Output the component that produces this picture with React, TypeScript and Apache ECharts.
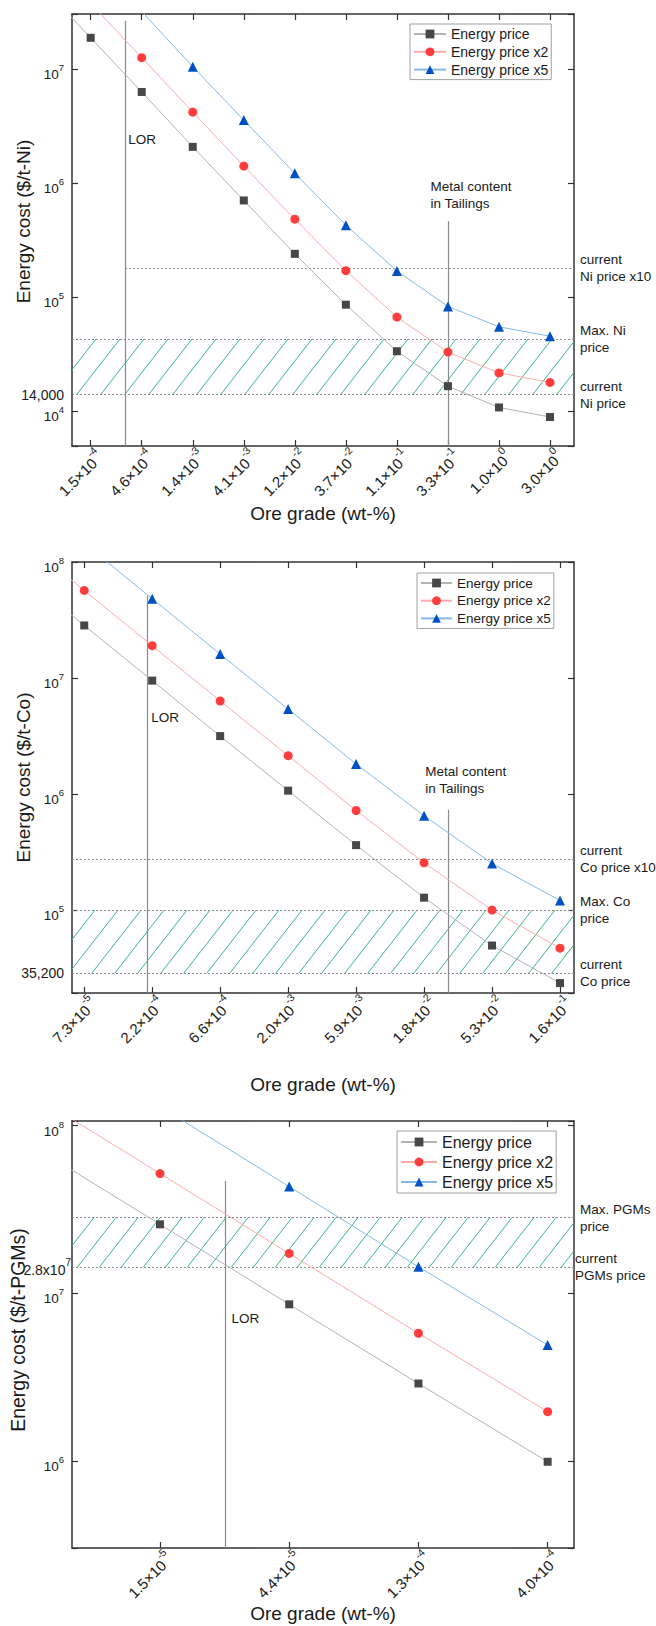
import React, { useEffect, useRef } from 'react';
import * as echarts from 'echarts';

const FONT = 'Arial, "Liberation Sans", Helvetica, sans-serif';
const TXT = '#1a1a1a';
const FRAME = '#333333';
const REF_LINE = '#8a8a8a';
const HATCH = '#3cb878';

const seriesNames = ['Energy price', 'Energy price x2', 'Energy price x5'];

// ---------- Nickel ----------
const niGrades = [1.5e-4, 4.6e-4, 1.4e-3, 4.1e-3, 1.2e-2, 3.7e-2, 1.1e-1, 3.3e-1, 1.0, 3.0];
// first value of each series = point one grade step below the first tick (off the left edge)
const niEnergy = [5.6e7, 1.88e7, 6.3e6, 2.08e6, 7.05e5, 2.4e5, 8.6e4, 3.36e4, 1.66e4, 1.08e4, 8.9e3];
const niEnergy2 = [1.12e8, 3.76e7, 1.26e7, 4.2e6, 1.41e6, 4.83e5, 1.71e5, 6.7e4, 3.3e4, 2.17e4, 1.79e4];
const niEnergy5 = [2.5e8, 8.3e7, 3.2e7, 1.05e7, 3.57e6, 1.22e6, 4.28e5, 1.7e5, 8.3e4, 5.5e4, 4.55e4];
const niPriceCurrent = 14000;
const niPriceMax = 43000;
const niPriceTenfold = 180000;
const niLorPos = 0.672; // position on the grade axis (tick index)
const niTailingsPos = 7;

// ---------- Cobalt ----------
const coGrades = [7.3e-5, 2.2e-4, 6.6e-4, 2.0e-3, 5.9e-3, 1.8e-2, 5.3e-2, 1.6e-1];
const coEnergy = [8.5e7, 2.84e7, 9.5e6, 3.16e6, 1.07e6, 3.63e5, 1.28e5, 4.95e4, 2.35e4];
const coEnergy2 = [1.7e8, 5.69e7, 1.9e7, 6.34e6, 2.14e6, 7.22e5, 2.56e5, 1.0e5, 4.7e4];
const coEnergy5 = [4.3e8, 1.45e8, 4.83e7, 1.61e7, 5.4e6, 1.82e6, 6.5e5, 2.52e5, 1.21e5];
const coPriceCurrent = 28500;
const coPriceMax = 100000;
const coPriceTenfold = 275000;
const coLorPos = 0.922;
const coTailingsPos = 5.358;

// ---------- PGMs ----------
const pgmGrades = [1.5e-5, 4.4e-5, 1.3e-4, 4.0e-4];
const pgmEnergy = [7.7e7, 2.58e7, 8.6e6, 2.9e6, 9.9e5];
const pgmEnergy2 = [1.55e8, 5.18e7, 1.73e7, 5.78e6, 1.97e6];
const pgmEnergy5 = [3.9e8, 1.3e8, 4.33e7, 1.44e7, 4.92e6];
const pgmPriceCurrent = 1.43e7;
const pgmPriceMax = 2.83e7;
const pgmLorPos = 0.508;

const lineStyles = [
  { symbol: 'rect', symbolSize: 8, itemStyle: { color: '#474747' }, lineStyle: { color: '#b3b3b3', width: 1 } },
  { symbol: 'circle', symbolSize: 9, itemStyle: { color: '#ff3d3d' }, lineStyle: { color: '#ffaaaa', width: 1 } },
  { symbol: 'triangle', symbolSize: 10, itemStyle: { color: '#0052c4' }, lineStyle: { color: '#86b8ee', width: 1 } },
];

const textBase = { color: TXT, fontFamily: FONT, fontSize: 13.5, lineHeight: 17 };

const charts = [
  {
    top: 14, height: 432, xMin: -0.366, xMax: 9.47, yMin: 4960, yMax: 3.04e7,
    grades: niGrades, series: [niEnergy, niEnergy2, niEnergy5],
    yName: 'Energy cost ($/t-Ni)', yNameGap: 39, yNameSize: 19, yNamePad: 17, xNameGap: 58,
    legend: { left: 410, top: 24, fontSize: 14, itemWidth: 32, itemGap: 3.8 },
    hatch: [niPriceCurrent, niPriceMax], hatchSpacing: 24,
    hLines: [
      { y: niPriceCurrent, pos: 'start', text: '14,000' },
      { y: niPriceCurrent, pos: 'end', text: 'current\nNi price' },
      { y: niPriceMax, pos: 'end', text: 'Max. Ni\nprice' },
      { y: niPriceTenfold, pos: 'end', text: 'current\nNi price x10', from: niLorPos, up: true },
    ],
    vLines: [{ x: niLorPos, top: 2.65e7 }, { x: niTailingsPos, top: 4.64e5 }],
    texts: [{ x: 0.725, y: 2.43e6, text: 'LOR' }, { x: 6.648, y: 7.85e5, text: 'Metal content\nin Tailings' }],
  },
  {
    top: 562, height: 431, xMin: -0.18, xMax: 7.206, yMin: 1.93e4, yMax: 1e8,
    grades: coGrades, series: [coEnergy, coEnergy2, coEnergy5],
    yName: 'Energy cost ($/t-Co)', yNameGap: 36, yNameSize: 19, yNamePad: 0, xNameGap: 82,
    legend: { left: 417, top: 573, fontSize: 13.5, itemWidth: 31, itemGap: 3.7 },
    hatch: [coPriceCurrent, coPriceMax], hatchSpacing: 23,
    hLines: [
      { y: coPriceCurrent, pos: 'start', text: '35,200' },
      { y: coPriceCurrent, pos: 'end', text: 'current\nCo price' },
      { y: coPriceMax, pos: 'end', text: 'Max. Co\nprice' },
      { y: coPriceTenfold, pos: 'end', text: 'current\nCo price x10', up: true },
    ],
    vLines: [{ x: coLorPos, top: 5.15e7 }, { x: coTailingsPos, top: 7.33e5 }],
    texts: [{ x: 0.98, y: 4.57e6, text: 'LOR' }, { x: 5.01, y: 1.31e6, text: 'Metal content\nin Tailings' }],
  },
  {
    top: 1121, height: 427, xMin: -0.681, xMax: 3.204, yMin: 3.03e5, yMax: 1.066e8,
    grades: pgmGrades, series: [pgmEnergy, pgmEnergy2, pgmEnergy5],
    yName: 'Energy cost ($/t-PGMs)', yNameGap: 44, yNameSize: 19.5, yNamePad: 9, xNameGap: 53,
    legend: { left: 397, top: 1131, fontSize: 16, itemWidth: 36, itemGap: 4 },
    hatch: [pgmPriceCurrent, pgmPriceMax], hatchSpacing: 22,
    hLines: [
      { y: pgmPriceCurrent, pos: 'start', text: '{b|2.8x10}{s|7}', rich: true, dist: 1 },
      { y: pgmPriceCurrent, pos: 'end', text: 'current\nPGMs price', dist: 1 },
      { y: pgmPriceMax, pos: 'end', text: 'Max. PGMs\nprice', up: true },
    ],
    vLines: [{ x: pgmLorPos, top: 4.7e7 }],
    texts: [{ x: 0.549, y: 7.11e6, text: 'LOR' }],
  },
];

// superscript via rich text: base sits at the bottom of a taller line, exponent at its top
const supRich = (base: number, sup: number, line: number) => ({
  b: { fontSize: base, fontFamily: FONT, color: TXT, lineHeight: line, verticalAlign: 'bottom' },
  s: { fontSize: sup, fontFamily: FONT, color: TXT, lineHeight: sup, verticalAlign: 'top' },
});

function buildOption() {
  const grid: any[] = [];
  const xAxis: any[] = [];
  const yAxis: any[] = [];
  const series: any[] = [];
  const legend: any[] = [];

  charts.forEach((c, k) => {
    grid.push({ left: 72, top: c.top, width: 502, height: c.height });
    const ticks = c.grades.map((_, i) => i);
    const axisLine = { show: true, onZero: false, lineStyle: { color: FRAME, width: 1.5 } };
    const tickStyle = { show: true, inside: true, length: 6, lineStyle: { color: FRAME, width: 1.2 } };
    const xFormatter = (v: number) => {
      const i = Math.round(v);
      if (Math.abs(v - i) > 1e-6 || i < 0 || i >= c.grades.length) return '';
      const g = c.grades[i];
      const e = Math.floor(Math.log10(g) + 1e-9);
      const m = (g / Math.pow(10, e)).toFixed(1);
      return `{b|${m}×10}{s|${e}}`;
    };
    xAxis.push({
      type: 'value', gridIndex: k, position: 'bottom', min: c.xMin, max: c.xMax,
      axisLine, splitLine: { show: false },
      axisTick: { ...tickStyle, customValues: ticks },
      axisLabel: {
        show: true, rotate: 45, margin: -2, padding: [23, 0, 0, 0],
        customValues: ticks, formatter: xFormatter, rich: supRich(15, 10.5, 20.5),
      },
      name: 'Ore grade (wt-%)', nameLocation: 'middle', nameGap: c.xNameGap,
      nameTextStyle: { fontSize: 19, color: TXT, fontFamily: FONT },
    });
    xAxis.push({
      type: 'value', gridIndex: k, position: 'top', min: c.xMin, max: c.xMax,
      axisLine, splitLine: { show: false },
      axisTick: { ...tickStyle, customValues: ticks },
      axisLabel: { show: false },
    });
    const yFormatter = (v: number) => {
      const e = Math.log10(v);
      const r = Math.round(e);
      if (Math.abs(e - r) > 1e-6) return '';
      return `{b|10}{s|${r}}`;
    };
    yAxis.push({
      type: 'log', logBase: 10, gridIndex: k, position: 'left', min: c.yMin, max: c.yMax,
      axisLine, splitLine: { show: false }, minorTick: { show: false }, axisTick: tickStyle,
      axisLabel: { show: true, margin: 8, padding: [6, 0, 0, 0], formatter: yFormatter, rich: supRich(13.5, 9.5, 19) },
      name: c.yName, nameLocation: 'middle', nameGap: c.yNameGap,
      nameTextStyle: { fontSize: c.yNameSize, color: TXT, fontFamily: FONT, padding: [0, 0, 0, c.yNamePad] },
    });
    yAxis.push({
      type: 'log', logBase: 10, gridIndex: k, position: 'right', min: c.yMin, max: c.yMax,
      axisLine, splitLine: { show: false }, minorTick: { show: false }, axisTick: tickStyle,
      axisLabel: { show: false },
    });

    const xi = 2 * k;
    const yi = 2 * k;

    series.push({
      type: 'custom', xAxisIndex: xi, yAxisIndex: yi, clip: true, silent: true, z: 1,
      data: [[c.xMin, c.hatch[0], c.hatch[1]]],
      encode: { x: 0, y: [1, 2] },
      renderItem: (params: any, api: any) => {
        const cs = params.coordSys;
        const yLo = api.coord([api.value(0), api.value(1)])[1];
        const yHi = api.coord([api.value(0), api.value(2)])[1];
        const dx = (yLo - yHi) * 0.78;
        const children: any[] = [];
        for (let x = cs.x - dx; x <= cs.x + cs.width + 1; x += c.hatchSpacing) {
          children.push({
            type: 'line',
            shape: { x1: x, y1: yLo, x2: x + dx, y2: yHi },
            style: { stroke: HATCH, lineWidth: 1 },
          });
        }
        return { type: 'group', children };
      },
    });

    const dotted = { color: REF_LINE, width: 1, type: [2, 2] };
    const mlData: any[] = [];
    c.hLines.forEach((h: any) => {
      const label = {
        show: true, position: h.pos, distance: h.dist ?? (h.pos === 'start' ? 8 : 6),
        formatter: h.text, ...textBase,
        ...(h.pos === 'start' ? { fontSize: 14 } : {}),
        ...(h.rich ? { rich: supRich(14, 10, 19) } : {}),
        ...(h.up ? { padding: [0, 0, 12, 0] } : {}),
      };
      if (h.from !== undefined) {
        mlData.push([
          { coord: [h.from, h.y], lineStyle: dotted, label },
          { coord: [c.xMax * 0.9999, h.y] },
        ]);
      } else {
        mlData.push({ yAxis: h.y, lineStyle: dotted, label });
      }
    });
    c.vLines.forEach((v) => {
      mlData.push([
        { coord: [v.x, v.top], lineStyle: { color: REF_LINE, width: 1.2, type: 'solid' }, label: { show: false } },
        { coord: [v.x, c.yMin * 1.001] },
      ]);
    });

    lineStyles.forEach((st, j) => {
      const s: any = {
        type: 'line', name: seriesNames[j], xAxisIndex: xi, yAxisIndex: yi, z: 3,
        data: c.series[j].map((v, i) => [i - 1, v]),
        showSymbol: true, showAllSymbol: true, clip: true,
        ...st,
        emphasis: { disabled: true },
      };
      if (j === 0) {
        s.markLine = {
          silent: true, symbol: ['none', 'none'], animation: false, z: 2,
          emphasis: { disabled: true },
          data: mlData,
        };
        s.markPoint = {
          silent: true, symbol: 'circle', symbolSize: 1, animation: false,
          itemStyle: { color: 'rgba(0,0,0,0)' },
          data: c.texts.map((t) => ({
            coord: [t.x, t.y],
            label: { show: true, position: 'right', distance: 0, formatter: t.text, align: 'left', ...textBase },
          })),
        };
      }
      series.push(s);
    });

    legend.push({
      data: seriesNames, orient: 'vertical', left: c.legend.left, top: c.legend.top,
      itemWidth: c.legend.itemWidth, itemHeight: 11, itemGap: c.legend.itemGap,
      padding: [3, 3, 3, 3], borderColor: '#a0a0a0', borderWidth: 1, selectedMode: false,
      textStyle: { fontSize: c.legend.fontSize, lineHeight: c.legend.fontSize, color: TXT, fontFamily: FONT },
    });
  });

  return {
    animation: false,
    textStyle: { fontFamily: FONT, color: TXT },
    grid, xAxis, yAxis, series, legend,
  };
}

export default function App() {
  const ref = useRef<HTMLDivElement>(null);
  useEffect(() => {
    document.body.style.margin = '0';
    if (!ref.current) return;
    const chart = echarts.init(ref.current, undefined, { renderer: 'svg' });
    chart.setOption(buildOption() as any);
    return () => chart.dispose();
  }, []);
  return <div ref={ref} style={{ width: 656, height: 1626, background: '#fff' }} />;
}
